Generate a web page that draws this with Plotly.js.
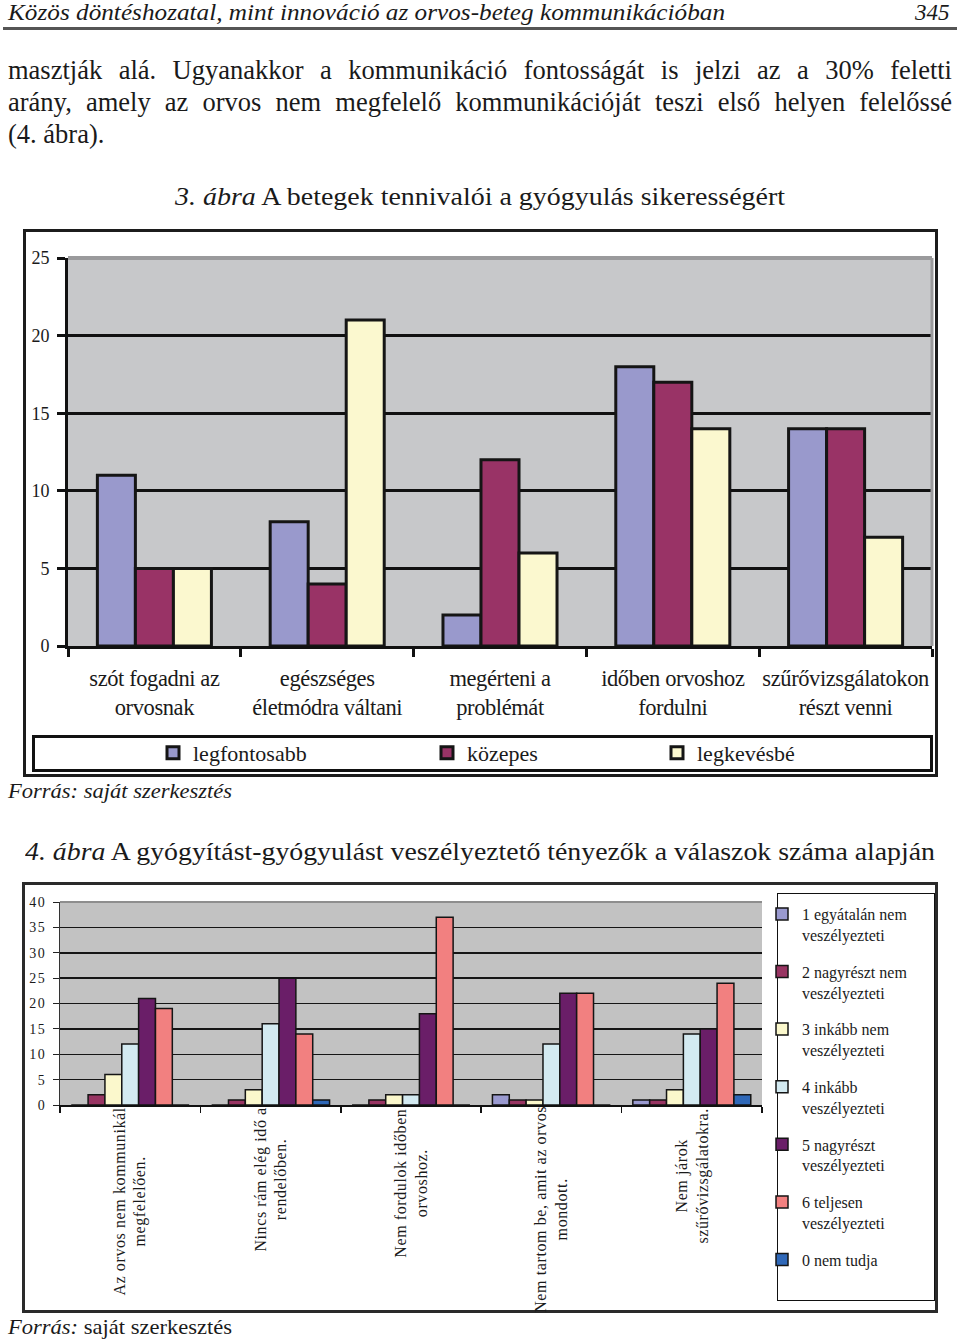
<!DOCTYPE html>
<html><head><meta charset="utf-8">
<script src="https://cdn.plot.ly/plotly-3.0.1.min.js"></script>
<style>
html,body{margin:0;padding:0;background:#fff}
body{width:960px;height:1339px;position:relative;overflow:hidden;font-family:"Liberation Serif","Times New Roman",serif;color:#1a1a1a}
.abs{position:absolute;white-space:nowrap;line-height:1}
.fit{transform-origin:left center;display:inline-block}
.par{position:absolute;left:8px;width:944px;font-size:26.5px;line-height:32px;text-align:justify;text-align-last:justify;white-space:nowrap}
.frame{position:absolute;box-sizing:border-box}
#c1,#c2{position:absolute;left:0}
#c1 .xtick text{letter-spacing:-0.4px}
#c2 .ytick text{letter-spacing:1.5px}
#c2 .annotation-text{letter-spacing:0.6px}
</style></head>
<body>
<div class="abs fit" id="hdr" style="left:8px;top:1px;font-size:23px;font-style:italic">Közös döntéshozatal, mint innováció az orvos-beteg kommunikációban</div>
<div class="abs" style="left:915px;top:1px;font-size:23px;font-style:italic">345</div>
<div class="abs" style="left:3px;top:27px;width:954px;height:3px;background:#555"></div>

<div class="par" style="top:54px">masztják alá. Ugyanakkor a kommunikáció fontosságát is jelzi az a 30% feletti</div>
<div class="par" style="top:86px">arány, amely az orvos nem megfelelő kommunikációját teszi első helyen felelőssé</div>
<div class="par" style="top:118px;text-align:left;text-align-last:left">(4. ábra).</div>

<div class="abs fit" id="cap1" style="left:175px;top:184px;font-size:26px"><i>3. ábra</i> A betegek tennivalói a gyógyulás sikerességért</div>

<div class="frame" style="left:23px;top:229px;width:915px;height:548px;border:3px solid #1c1c1c"></div>
<div class="frame" style="left:32px;top:735px;width:901px;height:37px;border:3px solid #111"></div>
<div id="c1" style="top:220px;width:960px;height:570px"></div>

<div class="abs fit" id="src1" style="left:8px;top:780px;font-size:22px;font-style:italic">Forrás: saját szerkesztés</div>

<div class="abs fit" id="cap2" style="left:25px;top:839px;font-size:26px"><i>4. ábra</i> A gyógyítást-gyógyulást veszélyeztető tényezők a válaszok száma alapján</div>

<div class="frame" style="left:22px;top:882px;width:916px;height:431px;border:3px solid #2a2a2a"></div>
<div class="frame" style="left:777px;top:893px;width:158px;height:408px;border:1.5px solid #111"></div>
<div id="c2" style="top:880px;width:960px;height:440px"></div>

<div class="abs fit" id="src2" style="left:8px;top:1316px;font-size:22px"><i>Forrás:</i> saját szerkesztés</div>

<script>
// ---------- Chart 1 data (3. ábra) ----------
const cats1 = ['szót fogadni az<br>orvosnak','egészséges<br>életmódra váltani','megérteni a<br>problémát','időben orvoshoz<br>fordulni','szűrővizsgálatokon<br>részt venni'];
const names1 = ['legfontosabb','közepes','legkevésbé'];
const legfontosabb = [11, 8, 2, 18, 14];
const kozepes = [5, 4, 12, 17, 14];
const legkevesbe = [5, 21, 6, 14, 7];
const yTicks1 = [0, 5, 10, 15, 20, 25];

// ---------- Chart 2 data (4. ábra) ----------
const cats2 = ['Az orvos nem kommunikál<br>megfelelően.','Nincs rám elég idő a<br>rendelőben.','Nem fordulok időben<br>orvoshoz.','Nem tartom be, amit az orvos<br>mondott.','Nem járok<br>szűrővizsgálatokra.'];
const names2 = ['1 egyátalán nem<br>veszélyezteti','2 nagyrészt nem<br>veszélyezteti','3 inkább nem<br>veszélyezteti','4 inkább<br>veszélyezteti','5 nagyrészt<br>veszélyezteti','6 teljesen<br>veszélyezteti','0 nem tudja'];
const v1 = [0, 0, 0, 2, 1];
const v2 = [2, 1, 1, 1, 1];
const v3 = [6, 3, 2, 1, 3];
const v4 = [12, 16, 2, 12, 14];
const v5 = [21, 25, 18, 22, 15];
const v6 = [19, 14, 37, 22, 24];
const v0 = [0, 1, 0, 0, 2];
const yTicks2 = [0, 5, 10, 15, 20, 25, 30, 35, 40];

// ---------- styles ----------
const colors1 = ['#9999cc', '#993366', '#fbf8cf'];
const colors2 = ['#9a9ad0', '#983462', '#fbf8cc', '#d3eaf1', '#6a1e68', '#f28080', '#2f68b8'];
const serif = '"Liberation Serif", "Times New Roman", serif';

// text fitting for page text
function fit(id, w){
  const el = document.getElementById(id);
  const cw = el.getBoundingClientRect().width;
  el.style.transform = 'scaleX(' + (w / cw) + ')';
}
fit('hdr', 717); fit('cap1', 610); fit('cap2', 910); fit('src1', 224); fit('src2', 224);

// ---------- Chart 1 ----------
const H1 = 570, TOP1 = 220;
const vals1 = [legfontosabb, kozepes, legkevesbe];
const legendTextX1 = [193, 467, 697];
const traces1 = vals1.map((v, i) => ({
  type: 'bar', x: cats1, y: v, name: names1[i],
  legend: i === 0 ? 'legend' : 'legend' + (i + 1),
  marker: {color: colors1[i], line: {color: '#151515', width: 3}},
  hoverinfo: 'y'
}));
const layout1 = {
  width: 960, height: H1,
  margin: {l: 68, r: 28, t: 38, b: 144},
  paper_bgcolor: 'rgba(0,0,0,0)', plot_bgcolor: '#c7c8ca',
  barmode: 'group', bargap: 0.34, bargroupgap: 0,
  font: {family: serif, color: '#1a1a1a'},
  xaxis: {type: 'category', showline: true, linecolor: '#111', linewidth: 3,
    ticks: 'outside', tickson: 'boundaries', ticklen: 8, tickwidth: 3, tickcolor: '#111',
    tickangle: 0, automargin: false,
    tickfont: {size: 22.5, color: '#1a1a1a'}, ticklabelstandoff: 10, showgrid: false, fixedrange: true},
  yaxis: {range: [0, 25], tickvals: yTicks1, ticktext: yTicks1.map(String),
    showline: true, linecolor: '#111', linewidth: 3, ticks: 'outside', ticklen: 8, tickwidth: 3, tickcolor: '#111',
    tickfont: {size: 18, color: '#1a1a1a'}, ticklabelstandoff: 4,
    showgrid: true, gridcolor: '#111', gridwidth: 3, zeroline: false, fixedrange: true},
  showlegend: true,
  shapes: [
    {type: 'line', xref: 'paper', yref: 'paper', x0: 0, x1: 1, y0: 1, y1: 1, line: {color: '#9a9a9c', width: 4}, layer: 'above'},
    {type: 'line', xref: 'paper', yref: 'paper', x0: 1, x1: 1, y0: 0, y1: 1, line: {color: '#9a9a9c', width: 3}, layer: 'above'}
  ]
};
legendTextX1.forEach((tx, i) => {
  layout1[i === 0 ? 'legend' : 'legend' + (i + 1)] = {
    orientation: 'h', xref: 'container', yref: 'container',
    x: (tx - 40) / 960, y: 1 - (753 - TOP1) / H1, xanchor: 'left', yanchor: 'middle',
    font: {size: 22, color: '#1a1a1a', family: serif}, bgcolor: 'rgba(0,0,0,0)', borderwidth: 0
  };
});
Plotly.newPlot('c1', traces1, layout1, {displayModeBar: false, staticPlot: true});

// ---------- Chart 2 ----------
const H2 = 440, TOP2 = 880;
const vals2 = [v1, v2, v3, v4, v5, v6, v0];
const traces2 = vals2.map((v, i) => ({
  type: 'bar', x: cats2, y: v, name: names2[i], legendgroup: 'g' + i,
  marker: {color: colors2[i], line: {color: '#151515', width: 1.5}},
  hoverinfo: 'y'
}));
const layout2 = {
  width: 960, height: H2,
  margin: {l: 60, r: 185, t: 22, b: 215},
  paper_bgcolor: 'rgba(0,0,0,0)', plot_bgcolor: '#c2c2c2',
  barmode: 'group', bargap: 0.16, bargroupgap: 0,
  font: {family: serif, color: '#1a1a1a'},
  xaxis: {type: 'category', showline: true, linecolor: '#111', linewidth: 1.5,
    ticks: 'outside', tickson: 'boundaries', ticklen: 6, tickwidth: 1.5, tickcolor: '#111',
    showticklabels: false, showgrid: false, fixedrange: true},
  yaxis: {range: [0, 40], tickvals: yTicks2, ticktext: yTicks2.map(String),
    showline: true, linecolor: '#333', linewidth: 1, ticks: 'outside', ticklen: 6, tickwidth: 1, tickcolor: '#222',
    tickfont: {size: 14, color: '#1a1a1a'}, ticklabelstandoff: 4,
    showgrid: true, gridcolor: '#151515', gridwidth: 1.5, zeroline: false, fixedrange: true},
  showlegend: true,
  legend: {xref: 'container', yref: 'container', x: (802 - 40) / 960, y: 1 - (897 - TOP2) / H2,
    xanchor: 'left', yanchor: 'top', valign: 'top', tracegroupgap: 13, maxheight: 420,
    font: {size: 16, color: '#1a1a1a', family: serif}, bgcolor: 'rgba(0,0,0,0)', borderwidth: 0},
  annotations: cats2.map(c => ({
    x: c, xref: 'x', y: 0, yref: 'paper', yshift: -7, text: c, showarrow: false,
    textangle: -90, xanchor: 'center', yanchor: 'top', align: 'center',
    font: {size: 16, color: '#1a1a1a', family: serif}
  })),
  shapes: [
    {type: 'line', xref: 'paper', yref: 'paper', x0: 0, x1: 1, y0: 1, y1: 1, line: {color: '#8e8e8e', width: 2}, layer: 'above'}
  ]
};
Plotly.newPlot('c2', traces2, layout2, {displayModeBar: false, staticPlot: true});
</script>
</body></html>
